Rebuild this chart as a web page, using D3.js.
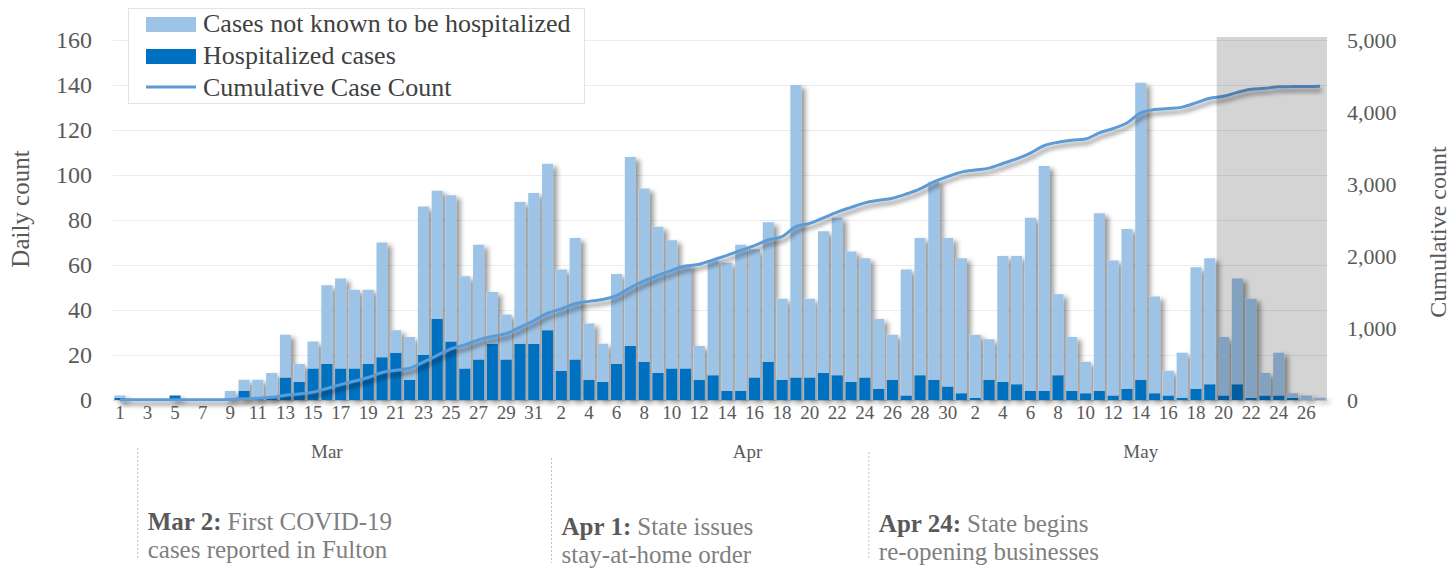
<!DOCTYPE html>
<html>
<head>
<meta charset="utf-8">
<script src="https://cdn.jsdelivr.net/npm/d3@7"></script>
<style>
    body { margin: 0; background: #fff; }
    svg text { font-family: "Liberation Serif", "DejaVu Serif", serif; fill: #595959; }
</style>
</head>
<body>
<div id="chart"></div>
<script>
// months on the category axis, and how many days of each one are shown
var months = ["Mar", "Apr", "May"]
var monthDays = [31, 30, 27]

// daily counts, Mar 1 .. May 27
var hospitalized = [
    1, 0, 0, 0, 2, 0, 0, 0, 0, 4, 1, 1, 10, 8, 14, 16, 14, 14, 16, 19, 21, 9, 20, 36, 26, 14, 18, 25, 18, 25, 25,
    31, 13, 18, 9, 8, 16, 24, 17, 12, 14, 14, 9, 11, 4, 4, 10, 17, 9, 10, 10, 12, 11, 8, 10, 5, 9, 2, 11, 9, 6,
    3, 1, 9, 8, 7, 4, 4, 11, 4, 3, 4, 2, 5, 9, 3, 2, 1, 5, 7, 2, 7, 1, 2, 2, 1, 0, 0
]
var notHospitalized = [
    1, 0, 0, 0, 0, 0, 0, 0, 4, 5, 8, 11, 19, 8, 12, 35, 40, 35, 33, 51, 10, 19, 66, 57, 65, 41, 51, 23, 20, 63, 67,
    74, 45, 54, 25, 17, 40, 84, 77, 65, 57, 46, 15, 51, 57, 65, 57, 62, 36, 130, 35, 63, 70, 58, 53, 31, 20, 56, 61, 88, 66,
    60, 28, 18, 56, 57, 77, 100, 36, 24, 14, 79, 60, 71, 132, 43, 11, 20, 54, 56, 26, 47, 44, 10, 19, 2, 2, 1
]
var cumulative = [
    2, 2, 2, 2, 4, 4, 4, 4, 8, 17, 26, 38, 67, 83, 109, 160, 214, 263, 312, 382, 413, 441, 527, 620, 711, 766, 835, 883, 921, 1009, 1101,
    1206, 1264, 1336, 1370, 1395, 1451, 1559, 1653, 1730, 1801, 1861, 1885, 1947, 2008, 2077, 2144, 2223, 2268, 2408, 2453,
    2528, 2609, 2675, 2738, 2774, 2803, 2861, 2933, 3030, 3102,
    3165, 3194, 3221, 3285, 3349, 3430, 3534, 3581, 3609, 3626, 3709, 3771, 3847, 3988, 4034, 4047, 4068, 4127, 4190, 4218,
    4272, 4317, 4329, 4350, 4353, 4355, 4356
]

var leftTicks = [0, 20, 40, 60, 80, 100, 120, 140, 160]
var rightTicks = [0, 1000, 2000, 3000, 4000, 5000]

var legendLabels = ["Cases not known to be hospitalized", "Hospitalized cases", "Cumulative Case Count"]

var noteDays = ["Mar 2", "Apr 1", "Apr 24"]
var noteHeads = ["Mar 2:", "Apr 1:", "Apr 24:"]
var noteLines = [
    ["First COVID-19", "cases reported in Fulton"],
    ["State issues", "stay-at-home order"],
    ["State begins", "re-opening businesses"]
]

// days from here on are greyed out
var shadedFrom = "May 20"

var colors = {light: "#9dc3e6", dark: "#0070c0", line: "#5b9bd5"}

// build the category list
var days = []
months.forEach(function (m, mi) {
    for (var d = 1; d <= monthDays[mi]; d++) {
        days.push({key: m + " " + d, month: m, day: d})
    }
})
var rows = days.map(function (d, i) {
    return {key: d.key, hosp: hospitalized[i], notHosp: notHospitalized[i], cum: cumulative[i]}
})
var keys = days.map(function (d) { return d.key })

// plot box (window.top is taken, so the names are longer)
var W = 1456, H = 568
var plotLeft = 113, plotRight = 1327, plotTop = 40, plotBottom = 400

var svg = d3.select("#chart").append("svg")
    .attr("width", W)
    .attr("height", H)

var defs = svg.append("defs")
var barShadow = defs.append("filter").attr("id", "barShadow")
    .attr("x", "-5%").attr("y", "-5%").attr("width", "110%").attr("height", "115%")
barShadow.append("feDropShadow")
    .attr("dx", 4).attr("dy", 3).attr("stdDeviation", 2.5)
    .attr("flood-color", "#000").attr("flood-opacity", 0.4)
var lineShadow = defs.append("filter").attr("id", "lineShadow")
    .attr("x", "-5%").attr("y", "-20%").attr("width", "110%").attr("height", "150%")
lineShadow.append("feDropShadow")
    .attr("dx", 2).attr("dy", 4).attr("stdDeviation", 2)
    .attr("flood-color", "#000").attr("flood-opacity", 0.45)

// scales
var x = d3.scaleBand().domain(keys).range([plotLeft, plotRight]).paddingInner(0.2).paddingOuter(0.1)
var y = d3.scaleLinear().domain([0, 160]).range([plotBottom, plotTop])
var y2 = d3.scaleLinear().domain([0, 5000]).range([plotBottom, plotTop])

// gridlines
svg.append("g")
    .attr("transform", "translate(" + plotLeft + ",0)")
    .call(d3.axisLeft(y).tickValues(leftTicks).tickSize(-(plotRight - plotLeft)).tickFormat(""))
    .call(function (g) {
        g.select(".domain").remove()
        g.selectAll("line").attr("stroke", function (d) { return d == 0 ? "#d9d9d9" : "#ebebeb" })
    })

// stacked bars
var stack = d3.stack().keys(["hosp", "notHosp"])(rows)
var bars = svg.append("g").attr("filter", "url(#barShadow)")
bars.selectAll("g")
    .data(stack)
    .enter().append("g")
    .attr("fill", function (s) { return s.key == "hosp" ? colors.dark : colors.light })
    .selectAll("rect")
    .data(function (s) { return s })
    .enter().append("rect")
    .attr("x", function (d) { return x(d.data.key) })
    .attr("width", x.bandwidth())
    .attr("y", function (d) { return y(d[1]) })
    .attr("height", function (d) { return y(d[0]) - y(d[1]) })

// cumulative line
var valueline = d3.line()
    .x(function (d) { return x(d.key) + x.bandwidth() / 2 })
    .y(function (d) { return y2(d.cum) })
    .curve(d3.curveMonotoneX)
svg.append("path")
    .datum(rows)
    .attr("fill", "none")
    .attr("stroke", colors.line)
    .attr("stroke-width", 3)
    .attr("filter", "url(#lineShadow)")
    .attr("d", valueline)

// grey box over the last days
var shadeX = x(shadedFrom) - x.step() * x.paddingInner() / 2
svg.append("rect")
    .attr("x", shadeX)
    .attr("y", y(160) - 3)
    .attr("width", plotRight - shadeX)
    .attr("height", plotBottom - y(160) + 3)
    .attr("fill", "#000")
    .attr("fill-opacity", 0.17)

// x axis: day numbers
svg.append("g")
    .attr("transform", "translate(0," + plotBottom + ")")
    .call(d3.axisBottom(x)
        .tickValues(keys.filter(function (k, i) { return i % 2 == 0 }))
        .tickFormat(function (k) { return k.split(" ")[1] })
        .tickSize(0).tickPadding(6))
    .attr("font-size", 19)
    .call(function (g) { g.select(".domain").remove() })

// month labels
months.forEach(function (m) {
    var md = days.filter(function (d) { return d.month == m })
    var x0 = x(md[0].key), x1 = x(md[md.length - 1].key) + x.bandwidth()
    svg.append("text")
        .attr("x", (x0 + x1) / 2)
        .attr("y", 458)
        .attr("text-anchor", "middle")
        .attr("font-size", 19)
        .text(m)
})

// y axes
svg.append("g")
    .attr("transform", "translate(" + plotLeft + ",0)")
    .call(d3.axisLeft(y).tickValues(leftTicks).tickSize(0).tickPadding(21))
    .attr("font-size", 24)
    .call(function (g) { g.select(".domain").remove() })

svg.append("g")
    .attr("transform", "translate(" + plotRight + ",0)")
    .call(d3.axisRight(y2).tickValues(rightTicks).tickSize(0).tickPadding(20).tickFormat(d3.format(",")))
    .attr("font-size", 22)
    .call(function (g) { g.select(".domain").remove() })

svg.append("text")
    .attr("transform", "translate(29,209) rotate(-90)")
    .attr("text-anchor", "middle")
    .attr("font-size", 25)
    .text("Daily count")

svg.append("text")
    .attr("transform", "translate(1446,232) rotate(-90)")
    .attr("text-anchor", "middle")
    .attr("font-size", 24)
    .text("Cumulative count")

// notes under the axis: bold date, then the rest right after it
var noteShift = [0, 5, 2]
noteDays.forEach(function (k, i) {
    var lx = x(k) + x.bandwidth() / 2 + 4
    var dy = noteShift[i]
    svg.append("line")
        .attr("x1", lx).attr("x2", lx)
        .attr("y1", 448 + dy * 2).attr("y2", 558 + dy)
        .attr("stroke", "#bfbfbf")
        .attr("stroke-dasharray", "2,2")
    var head = svg.append("text")
        .attr("x", lx + 10)
        .attr("y", 530 + dy)
        .attr("font-size", 25)
        .attr("font-weight", "bold")
        .text(noteHeads[i])
    var hw = head.node().getComputedTextLength()
    svg.append("text")
        .attr("x", lx + 10 + hw + 6)
        .attr("y", 530 + dy)
        .attr("font-size", 25)
        .style("fill", "#7f7f7f")
        .text(noteLines[i][0])
    svg.append("text")
        .attr("x", lx + 10)
        .attr("y", 558 + dy)
        .attr("font-size", 25)
        .style("fill", "#7f7f7f")
        .text(noteLines[i][1])
})

// legend
var legend = svg.append("g")
legend.append("rect")
    .attr("x", 128.5).attr("y", 8.5)
    .attr("width", 456).attr("height", 95)
    .attr("fill", "#fff")
    .attr("stroke", "#e3e3e3")
legendLabels.forEach(function (lab, i) {
    var cy = 24 + i * 32
    if (i < 2) {
        legend.append("rect")
            .attr("x", 146).attr("y", cy - 7)
            .attr("width", 50).attr("height", 15)
            .attr("fill", i == 0 ? colors.light : colors.dark)
    } else {
        legend.append("line")
            .attr("x1", 146).attr("x2", 196)
            .attr("y1", cy - 1).attr("y2", cy - 1)
            .attr("stroke", colors.line)
            .attr("stroke-width", 3)
    }
    legend.append("text")
        .attr("x", 203)
        .attr("y", cy + 8)
        .attr("font-size", 26)
        .style("fill", "#404040")
        .text(lab)
})
</script>
</body>
</html>
